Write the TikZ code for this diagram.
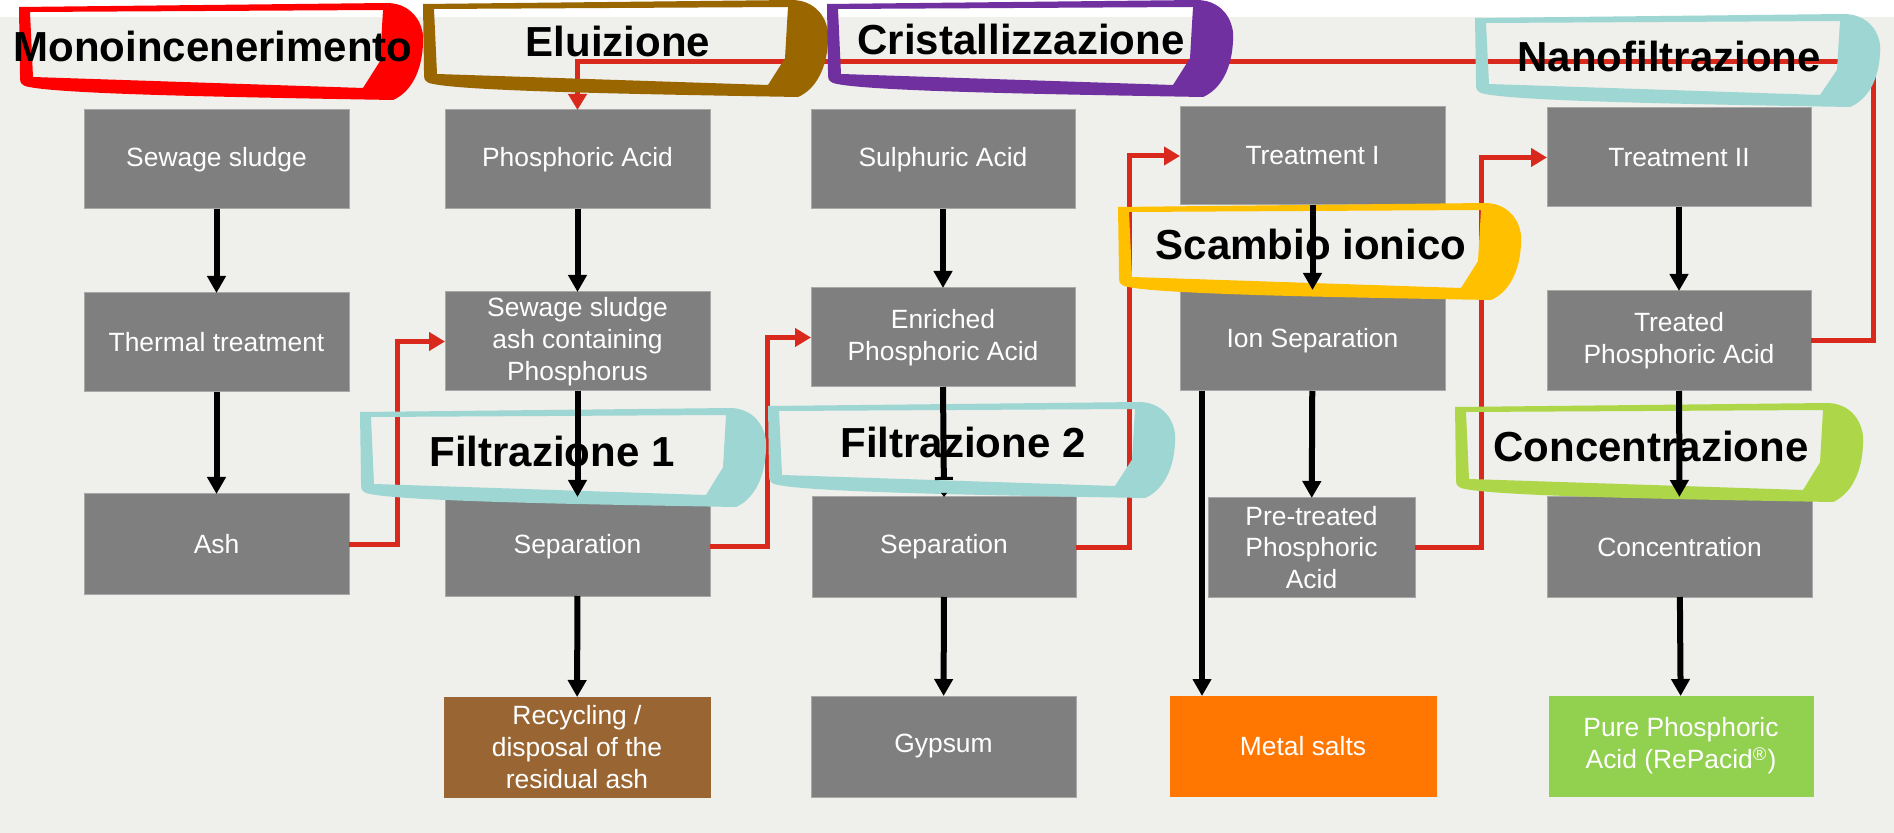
\documentclass[tikz,border=0pt]{standalone}
\usepackage{fontspec}
\setmainfont{Liberation Sans}
\usetikzlibrary{arrows.meta,calc}
\definecolor{bgc}{HTML}{EFEFEB}
\definecolor{boxgray}{HTML}{7F7F7F}
\definecolor{boxedge}{HTML}{A8A8A8}
\definecolor{redline}{HTML}{D9291C}
\definecolor{fred}{HTML}{FF0000}
\definecolor{fbrown}{HTML}{996600}
\definecolor{fpurple}{HTML}{7030A0}
\definecolor{fteal}{HTML}{9ED6D3}
\definecolor{fgold}{HTML}{FFC000}
\definecolor{fgreen}{HTML}{ADD748}
\definecolor{recycbrown}{HTML}{996633}
\definecolor{metalorange}{HTML}{FF7700}
\definecolor{puregreen}{HTML}{92D050}
\newcommand\hlframe[5]{%
  \begin{scope}[shift={(#2,#3)}]
    \fill[#1, even odd rule]
      (0,4) -- ({#4-35},0)
      .. controls ({#4-8},1) and ({#4+2},{0.25*#5}) .. ({#4},{0.42*#5})
      .. controls ({#4-1},{0.7*#5}) and ({#4-12},{0.92*#5}) .. ({#4-30},{#5})
      .. controls ({0.5*#4},{#5-3}) and ({0.08*#4},{#5-6}) .. (6,{#5-14})
      .. controls (1,{#5-17}) .. (1,{#5-26}) -- cycle
      (11,9) -- ({#4-40},7) -- ({#4-43},{0.6*#5}) -- ({#4-60},{#5-12}) -- (14,{#5-23}) -- cycle;
  \end{scope}}
\newcommand\pbox[7]{\node[#1, minimum width={(#5-#3)*0.5pt}, minimum height={(#6-#4)*0.5pt}] (#2) at ({(#3+#5)/2},{(#4+#6)/2}) {#7};}
\begin{document}
\begin{tikzpicture}[x=0.5pt,y=-0.5pt,
  box/.style={fill=boxgray, draw=boxedge, line width=0.5pt, text=white, align=center, inner sep=0pt, outer sep=0pt, font=\fontsize{13.2}{15.9}\selectfont},
  recyc/.style={box, fill=recycbrown, draw=recycbrown},
  metal/.style={box, fill=metalorange, draw=metalorange},
  pure/.style={box, fill=puregreen, draw=puregreen},
  hdr/.style={font=\fontsize{21}{24}\bfseries\selectfont, text=black, inner sep=0pt, anchor=base},
  redl/.style={draw=redline, line width=2.5pt, -{Triangle[width=9pt,length=8pt]}},
  blk/.style={draw=black, line width=3pt, -{Triangle[width=9pt,length=8.5pt]}}]
\useasboundingbox (0,0) rectangle (1894,833);
\fill[white] (0,0) rectangle (1894,833);
\fill[bgc] (0,17) rectangle (1894,833);
% column 1
\pbox{box}{sludge}{84}{110}{349}{209}{Sewage sludge}
\pbox{box}{thermal}{84}{293}{349}{392}{Thermal treatment}
\pbox{box}{ash}{84}{494}{349}{594}{Ash}
% column 2
\pbox{box}{phos}{445}{110}{710}{209}{Phosphoric Acid}
\pbox{box}{sash}{445}{292}{710}{391}{Sewage sludge\\ash containing\\Phosphorus}
\pbox{box}{sepa}{445}{497}{710}{596}{Separation}
\pbox{recyc}{recy}{444}{697}{710}{797}{Recycling /\\disposal of the\\residual ash}
% column 3
\pbox{box}{sulph}{811}{110}{1075}{209}{Sulphuric Acid}
\pbox{box}{enr}{811}{288}{1075}{387}{Enriched\\Phosphoric Acid}
\pbox{box}{sepb}{812}{497}{1076}{597}{Separation}
\pbox{box}{gyp}{811}{696}{1076}{797}{Gypsum}
% column 4
\pbox{box}{treatA}{1180}{107}{1445}{205}{Treatment I}
\pbox{box}{ionsep}{1180}{290}{1445}{391}{Ion Separation}
\pbox{box}{pretr}{1208}{498}{1415}{597}{Pre-treated\\Phosphoric\\Acid}
\pbox{metal}{msalt}{1170}{696}{1436}{796}{Metal salts}
% column 5
\pbox{box}{treatB}{1547}{108}{1811}{207}{Treatment II}
\pbox{box}{treated}{1547}{291}{1811}{391}{Treated\\Phosphoric Acid}
\pbox{box}{conc}{1547}{497}{1812}{597}{Concentration}
\pbox{pure}{pacid}{1549}{696}{1813}{796}{Pure Phosphoric\\Acid (RePacid\textsuperscript{®})}
% red connectors
\coordinate (rxa) at (397,0);
\coordinate (rxb) at (767,0);
\coordinate (rxc) at (1129,0);
\coordinate (rxd) at (1481,0);
\coordinate (rtop) at (1873,62);
\draw[redl] (ash.east) -- (ash.east -| rxa) |- (sash.west);
\draw[redl] (sepa.east) -- (sepa.east -| rxb) |- (enr.west);
\draw[redl] (sepb.east) -- (sepb.east -| rxc) |- (treatA.west);
\draw[redl] (pretr.east) -- (pretr.east -| rxd) |- (treatB.west);
\draw[redl] (treated.east) -| (rtop) -| (phos.north);
% highlighter frames
\hlframe{fred}{19}{3}{404}{97}
\hlframe{fbrown}{423}{0}{405}{97}
\hlframe{fpurple}{827}{0}{406}{97}
\hlframe{fteal}{1475}{14}{405}{93}
\hlframe{fteal}{360}{408}{406}{99}
\hlframe{fteal}{768}{402}{407}{96}
\hlframe{fgold}{1118}{203}{403}{97}
\hlframe{fgreen}{1455}{403}{408}{99}
% headers
\node[hdr] (hmono) at (213,62) {Monoincenerimento};
\node[hdr] (helu) at (618,57) {Eluizione};
\node[hdr] (hcri) at (1021,55) {Cristallizzazione};
\node[hdr] (hnano) at (1669,72) {Nanofiltrazione};
\node[hdr] (hfa) at (552,467) {Filtrazione 1};
\node[hdr] (hfb) at (963,458) {Filtrazione 2};
\node[hdr] (hsca) at (1311,260) {Scambio ionico};
\node[hdr] (hcon) at (1651,462) {Concentrazione};
% black arrows
\draw[blk] (sludge) -- (thermal);
\draw[blk] (thermal) -- (ash);
\draw[blk] (phos) -- (sash);
\draw[blk] (sash) -- (sepa);
\draw[blk] (sepa) -- (recy);
\draw[blk] (sulph) -- (enr);
\draw[draw=black, line width=3pt, -{Bar[width=9pt,line width=1.5pt]}] (enr.south) -- ($(enr.south)!0.845!(sepb.north)$);
\fill[black] ($(sepb.north)+(-3,-4)$) -- ($(sepb.north)+(3,-4)$) -- (sepb.north) -- cycle;
\draw[blk] (sepb) -- (gyp);
\draw[blk] (treatA) -- (ionsep);
\draw[blk] (ionsep) -- (pretr);
\coordinate (mx) at (1202,0);
\draw[blk] (ionsep.south -| mx) -- (msalt.north -| mx);
\draw[blk] (treatB) -- (treated);
\draw[blk] (treated) -- (conc);
\draw[blk] (conc) -- (pacid);
\end{tikzpicture}
\end{document}
